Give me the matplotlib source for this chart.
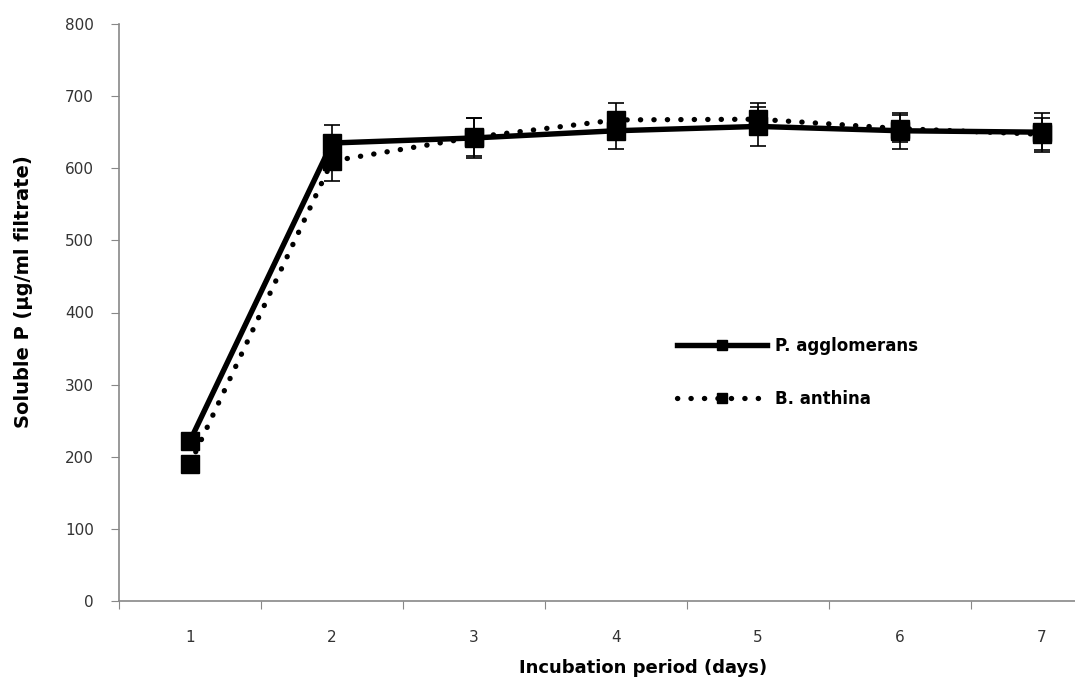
import numpy as np
import matplotlib
matplotlib.use("Agg")
import matplotlib.pyplot as plt

# Data
days = [1, 2, 3, 4, 5, 6, 7]
p_agglomerans = [222, 635, 642, 652, 658, 652, 650]
p_agglomerans_err = [5, 25, 28, 25, 27, 25, 27]
b_anthina = [190, 610, 643, 667, 668, 655, 647]
b_anthina_err = [5, 28, 26, 23, 22, 19, 22]

plt.rcParams['font.family'] = ['DejaVu Sans']

fig = plt.figure(figsize=(10.75, 6.81), dpi=100)
ax = fig.add_axes([119 / 1075, 80 / 681, 994 / 1075, 577 / 681])

# error bars first, lines with markers on top
ax.errorbar(days, p_agglomerans, yerr=p_agglomerans_err, fmt='none', ecolor='black',
            capsize=5.5, elinewidth=1.2, capthick=1.2, zorder=2)
ax.errorbar(days, b_anthina, yerr=b_anthina_err, fmt='none', ecolor='black',
            capsize=5.5, elinewidth=1.2, capthick=1.2, zorder=2)

ax.plot(days, p_agglomerans, color='black', lw=3.9, marker='s', markersize=13.5,
        label='P. agglomerans', zorder=3)
ax.plot(days, b_anthina, color='black', lw=3.8, linestyle=(0, (0.05, 2.5)),
        dash_capstyle='round', marker='s', markersize=13.5,
        label='B. anthina', zorder=3)

ax.set_xlim(0.5, 7.5)
ax.set_ylim(0, 800)
ax.set_yticks(np.arange(0, 801, 100))
ax.set_xticks(np.arange(0.5, 7.6, 1.0))
ax.set_xticklabels([])
ax.set_xticks(days, minor=True)
ax.set_xticklabels([str(d) for d in days], minor=True)
ax.tick_params(axis='x', which='minor', length=0, pad=21, labelsize=11, labelcolor='#333333')
ax.tick_params(axis='x', which='major', length=6, direction='out', color='#888888')
ax.tick_params(axis='y', length=6, direction='out', color='#888888', pad=12,
               labelsize=11, labelcolor='#333333')

for s in ['top', 'right']:
    ax.spines[s].set_visible(False)
for s in ['left', 'bottom']:
    ax.spines[s].set_color('#888888')
    ax.spines[s].set_linewidth(1.2)

fig.text(24 / 1075, 1 - 292 / 681, 'Soluble P (µg/ml filtrate)', fontsize=14,
         fontweight='bold', rotation=90, ha='center', va='center')
fig.text(643 / 1075, 1 - 668 / 681, 'Incubation period (days)', fontsize=13,
         fontweight='bold', ha='center', va='center')

leg = ax.legend(loc='center left', bbox_to_anchor=(0.561, 0.396), frameon=False,
                fontsize=12, handlelength=5.4, labelspacing=2.1, markerscale=0.55,
                handletextpad=0.5, borderpad=0, borderaxespad=0)
for t in leg.get_texts():
    t.set_fontweight('bold')

fig.savefig('out.png', dpi=100)
